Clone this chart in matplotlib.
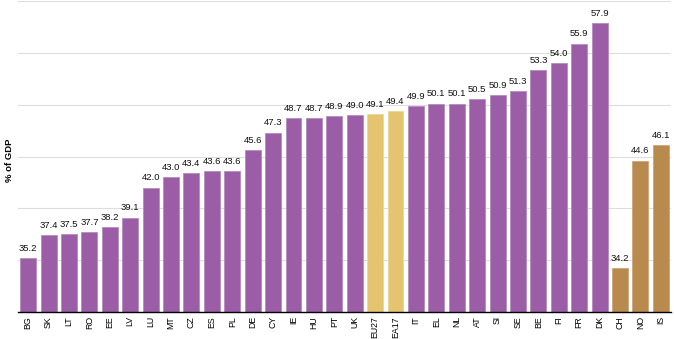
import matplotlib
matplotlib.use("Agg")
import matplotlib.pyplot as plt
import numpy as np

plt.rcParams['font.family'] = ['Liberation Sans', 'DejaVu Sans']

categories = ["BG", "SK", "LT", "RO", "EE", "LV", "LU", "MT", "CZ", "ES", "PL", "DE",
              "CY", "IE", "HU", "PT", "UK", "EU27", "EA17", "IT", "EL", "NL", "AT", "SI",
              "SE", "BE", "FI", "FR", "DK", "CH", "NO", "IS"]
values = [35.2, 37.4, 37.5, 37.7, 38.2, 39.1, 42.0, 43.0, 43.4, 43.6, 43.6, 45.6,
          47.3, 48.7, 48.7, 48.9, 49.0, 49.1, 49.4, 49.9, 50.1, 50.1, 50.5, 50.9,
          51.3, 53.3, 54.0, 55.9, 57.9, 34.2, 44.6, 46.1]
groups = ["member"] * 17 + ["aggregate"] * 2 + ["member"] * 10 + ["efta"] * 3

palette = {"member": "#9B5DA5", "aggregate": "#E5C46F", "efta": "#B98A4E"}
edge = {"member": "#B48DBD", "aggregate": "#EDD69A", "efta": "#CBA57A"}

fig = plt.figure(figsize=(6.74, 3.39), dpi=100)
ax = fig.add_axes([18 / 674, 27 / 339, (671 - 18) / 674, 311 / 339])

x = np.arange(len(categories))
bars = ax.bar(x, values, width=0.78, bottom=0,
              color=[palette[g] for g in groups],
              edgecolor=[edge[g] for g in groups], linewidth=0.6, zorder=2)

for xi, v in zip(x, values):
    ax.text(xi, v + 0.5, f"{v:.1f}", ha="center", va="bottom", fontsize=6.8, color="#111111")

ax.set_ylim(30, 60)
ax.set_xlim(-0.5, len(categories) - 0.5)
ax.set_yticks(np.arange(30, 61, 5))
ax.set_yticklabels([])
ax.tick_params(axis="y", length=0)
ax.grid(axis="y", color="#DDDDDD", linewidth=0.8, zorder=0)
ax.set_axisbelow(True)

ax.set_xticks(x)
ax.set_xticklabels(categories, rotation=90, fontsize=6.3)
ax.tick_params(axis="x", length=0, pad=3)

for s in ["top", "right", "left"]:
    ax.spines[s].set_visible(False)
ax.spines["bottom"].set_color("#000000")
ax.spines["bottom"].set_linewidth(1.0)
ax.spines["bottom"].set_zorder(3)

fig.text(9 / 674, 1 - 160 / 339, "% of GDP", rotation=90, ha="center", va="center",
         fontsize=6.8, fontweight="bold")

fig.savefig("out.png", dpi=100)
